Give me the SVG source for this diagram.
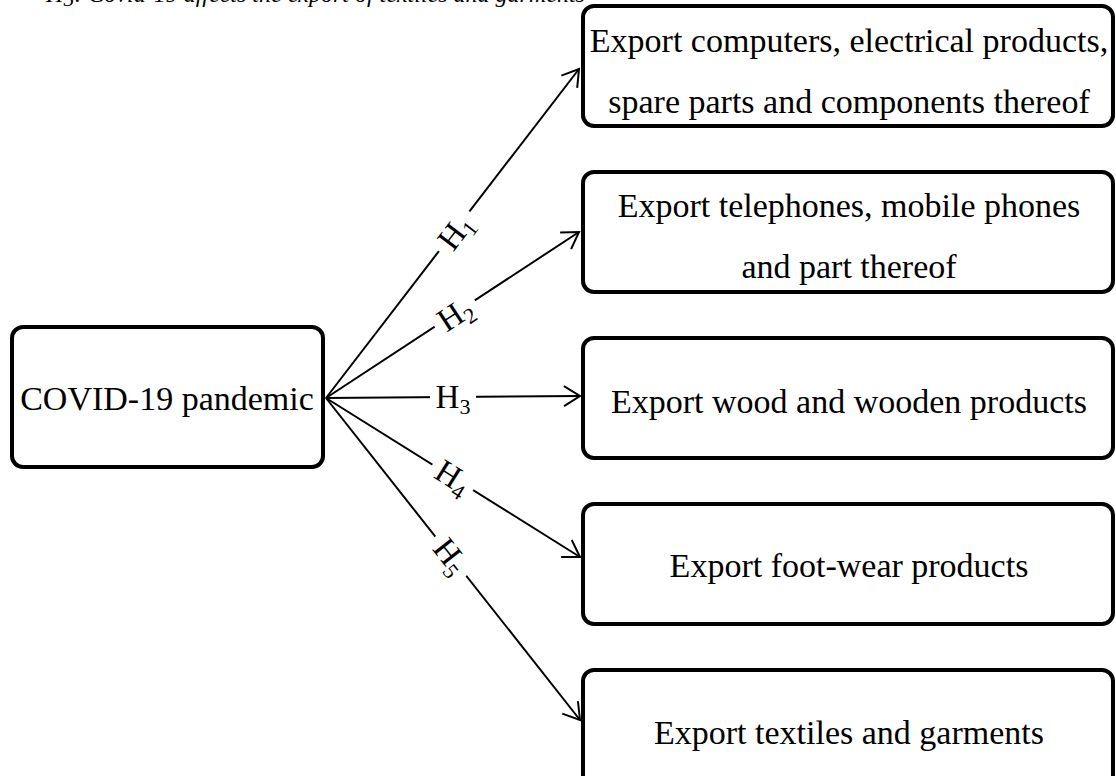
<svg xmlns="http://www.w3.org/2000/svg" width="1116" height="776" viewBox="0 0 1116 776">
<defs>
<style>
.box{fill:#fff;stroke:#000;stroke-width:4}
.t{font-family:"Liberation Serif","Times New Roman",serif;font-size:34px;fill:#000;text-anchor:middle}
.lab{font-family:"Liberation Serif","Times New Roman",serif;font-size:33px;fill:#000;text-anchor:middle}
.sub{font-size:22px}
.edge{stroke:#000;stroke-width:2;fill:none;marker-end:url(#arr)}
.bg{fill:#fff}
.cap{font-family:"Liberation Serif","Times New Roman",serif;font-size:24px;font-style:italic;fill:#000}
</style>
<marker id="arr" markerUnits="userSpaceOnUse" markerWidth="20" markerHeight="24" viewBox="0 0 20 24" refX="17" refY="12" orient="auto">
<path d="M1,2 L17,12 L1,22" fill="none" stroke="#000" stroke-width="2"/>
</marker>
</defs>
<rect width="1116" height="776" fill="#fff"/>
<text class="cap" x="46" y="2">H<tspan class="sub" font-size="16" dy="4">5</tspan><tspan dy="-4">: Covid-19 affects the export of textiles and garments</tspan></text>
<g id="connectors">
<line class="edge" x1="326" y1="398" x2="579" y2="69"/>
<line class="edge" x1="326" y1="398" x2="579" y2="232"/>
<line class="edge" x1="326" y1="398" x2="580" y2="396"/>
<line class="edge" x1="326" y1="398" x2="580" y2="557"/>
<line class="edge" x1="326" y1="398" x2="580" y2="720"/>
<g transform="translate(455,232) rotate(-52.55)"><rect class="bg" x="-25" y="-8" width="50" height="16"/><text class="lab" y="11">H<tspan class="sub" dy="6">1</tspan></text></g>
<g transform="translate(455,314) rotate(-33.38)"><rect class="bg" x="-24" y="-8" width="48" height="16"/><text class="lab" y="11">H<tspan class="sub" dy="6">2</tspan></text></g>
<g transform="translate(453,397)"><rect class="bg" x="-23" y="-8" width="46" height="16"/><text class="lab" y="11">H<tspan class="sub" dy="6">3</tspan></text></g>
<g transform="translate(453,477) rotate(32.15)"><rect class="bg" x="-24" y="-8" width="48" height="16"/><text class="lab" y="11">H<tspan class="sub" dy="6">4</tspan></text></g>
<g transform="translate(451,556) rotate(51.84)"><rect class="bg" x="-25" y="-8" width="50" height="16"/><text class="lab" y="11">H<tspan class="sub" dy="6">5</tspan></text></g>
</g>
<g id="covid">
<rect class="box" x="12" y="327" width="311" height="140" rx="11"/>
<text class="t" x="167" y="410">COVID-19 pandemic</text>
</g>
<g id="n1">
<rect class="box" x="583" y="6" width="530" height="120" rx="11"/>
<text class="t" x="849" y="52">Export computers, electrical products,</text>
<text class="t" x="849" y="113">spare parts and components thereof</text>
</g>
<g id="n2">
<rect class="box" x="583" y="172" width="530" height="120" rx="11"/>
<text class="t" x="849" y="217">Export telephones, mobile phones</text>
<text class="t" x="849" y="278">and part thereof</text>
</g>
<g id="n3">
<rect class="box" x="583" y="338" width="530" height="120" rx="11"/>
<text class="t" x="849" y="413">Export wood and wooden products</text>
</g>
<g id="n4">
<rect class="box" x="583" y="504" width="530" height="120" rx="11"/>
<text class="t" x="849" y="577">Export foot-wear products</text>
</g>
<g id="n5">
<rect class="box" x="583" y="670" width="530" height="120" rx="11"/>
<text class="t" x="849" y="744">Export textiles and garments</text>
</g>
</svg>
